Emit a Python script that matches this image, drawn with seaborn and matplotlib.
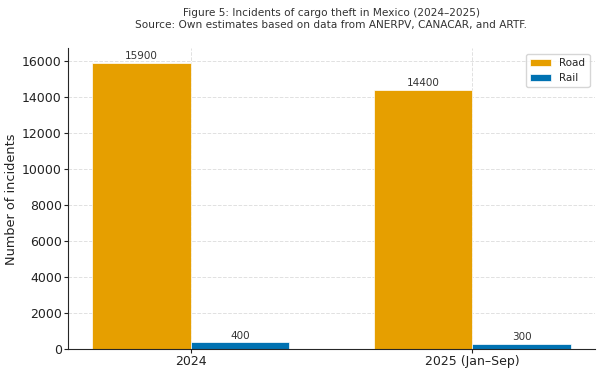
import pandas as pd
import matplotlib as mpl
import matplotlib.pyplot as plt
import seaborn as sns

mpl.rcParams['axes.unicode_minus'] = False

# data
PERIODS = ['2024', '2025 (Jan–Sep)']
ROAD = [15900, 14400]
RAIL = [400, 300]
MODES = ['Road', 'Rail']
COLORS = {'Road': '#E69F00', 'Rail': '#0072B2'}

TITLE = 'Figure 5: Incidents of cargo theft in Mexico (2024–2025)\nSource: Own estimates based on data from ANERPV, CANACAR, and ARTF.'


def build_frame():
    rows = []
    for i, p in enumerate(PERIODS):
        rows.append({'period': p, 'mode': 'Road', 'incidents': ROAD[i]})
        rows.append({'period': p, 'mode': 'Rail', 'incidents': RAIL[i]})
    return pd.DataFrame(rows)


if __name__ == "__main__":
    df = build_frame()
    sns.set_style('ticks')
    plt.rcParams['font.family'] = ['DejaVu Sans']
    fig, ax = plt.subplots(figsize=(6.02, 3.73), dpi=100)

    sns.barplot(data=df, x='period', y='incidents', hue='mode', hue_order=MODES,
                palette=COLORS, width=0.7, ax=ax, edgecolor='white', linewidth=0.5,
                saturation=1)

    for cont in ax.containers:
        ax.bar_label(cont, fmt='%d', fontsize=7.5, color='#333333', padding=1)

    ax.set_xlim(-0.435, 1.435)
    ax.set_ylim(0, 16695)
    ax.grid(True, linestyle='--', color='#cccccc', alpha=0.6, linewidth=0.7)
    ax.set_axisbelow(True)
    sns.despine(ax=ax)

    ax.set_title(TITLE, fontsize=7.6, color='#333333', pad=15)
    ax.set_xlabel('')
    ax.set_ylabel('Number of incidents', fontsize=9.3, color='#222222', labelpad=3)
    ax.tick_params(axis='both', labelsize=9, colors='#222222', length=3, pad=1.5)
    ax.legend(loc='upper right', fontsize=7.5, title=None, frameon=True)

    fig.subplots_adjust(left=0.113, right=0.988, top=0.87, bottom=0.064)
    fig.savefig('out.png', dpi=100)
